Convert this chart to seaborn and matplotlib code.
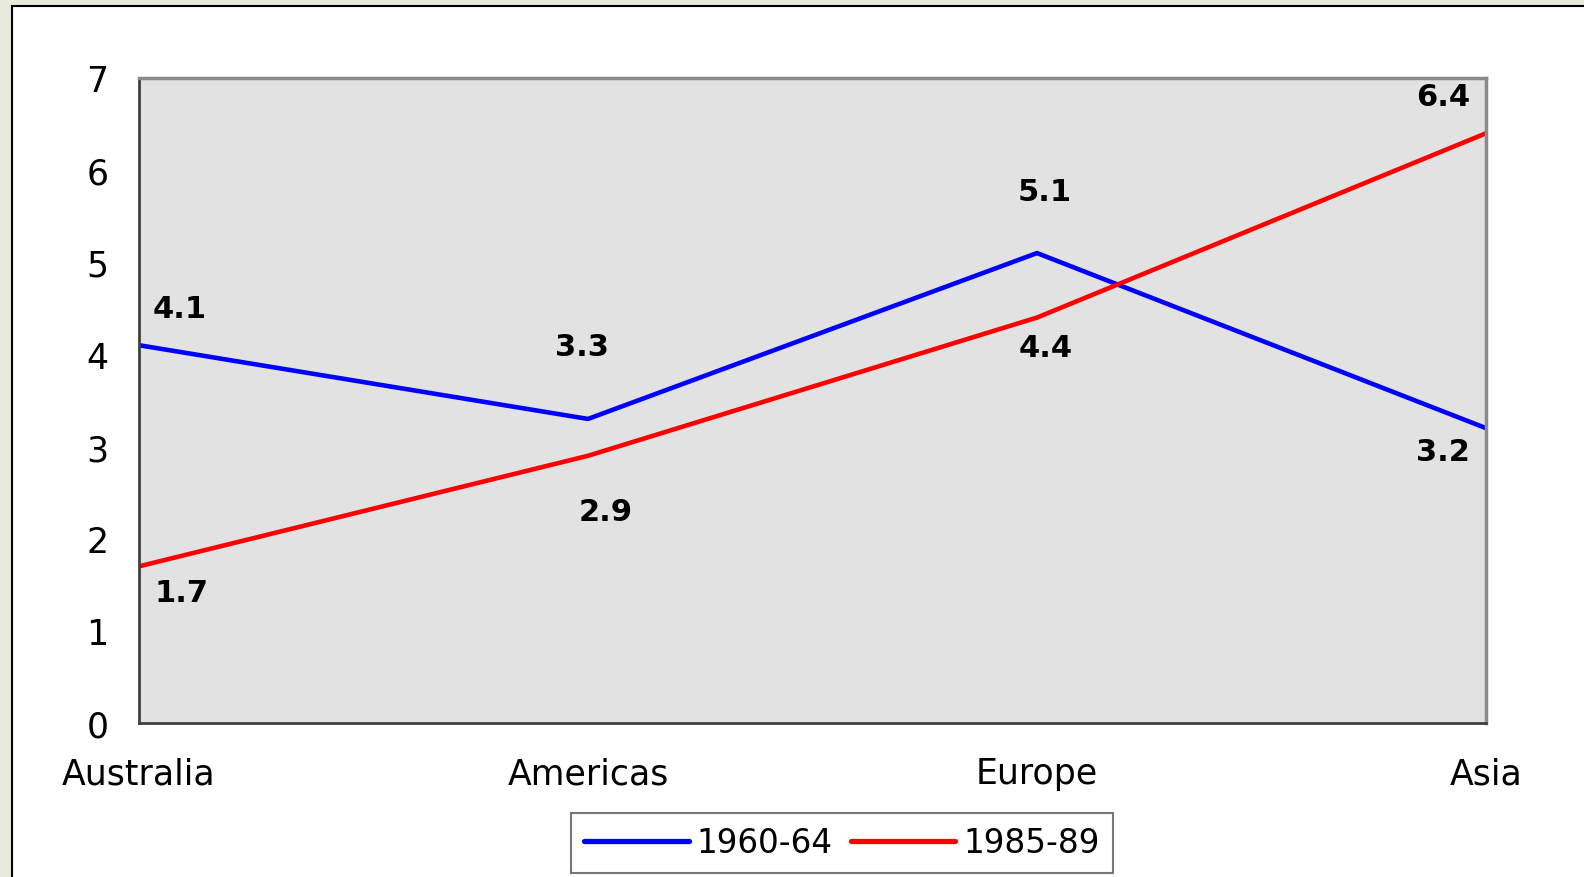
import matplotlib
matplotlib.use("Agg")
import matplotlib.pyplot as plt
import seaborn as sns
import pandas as pd
from matplotlib.patches import Rectangle

regions = ["Australia", "Americas", "Europe", "Asia"]
series_1960 = [4.1, 3.3, 5.1, 3.2]
series_1985 = [1.7, 2.9, 4.4, 6.4]
series_names = ["1960-64", "1985-89"]
y_ticks = [0, 1, 2, 3, 4, 5, 6, 7]

# label offsets (pixels, +y downward) relative to each point
offsets_1960 = [(41, -37), (-6, -72), (8, -62), (-43, 23)]
offsets_1985 = [(42, 26), (18, 56), (9, 30), (-43, -37)]

df = pd.DataFrame({
    "region": regions * 2,
    "value": series_1960 + series_1985,
    "period": [series_names[0]] * 4 + [series_names[1]] * 4,
})

sns.set_style("white")
plt.rcParams["font.family"] = ["DejaVu Sans"]

fig = plt.figure(figsize=(15.84, 8.78), dpi=100)
fig.patch.set_facecolor("#e6e9dc")
# white panel with black frame, behind the axes
panel = Rectangle((12 / 1584, -0.01), 1.0, (878 - 7) / 878 + 0.01,
                  transform=fig.transFigure, facecolor="white",
                  edgecolor="black", linewidth=1.5, zorder=-10)
fig.patches.append(panel)

ax = fig.add_axes([139 / 1584, 1 - 724 / 878, (1486 - 139) / 1584, (724 - 79) / 878])
ax.set_zorder(1)
ax.set_facecolor("#e2e2e2")

sns.lineplot(data=df, x="region", y="value", hue="period",
             palette={"1960-64": "#0000ff", "1985-89": "#ff0000"},
             linewidth=3.3, ax=ax, sort=False)

ax.set_xlim(0, 3)
ax.set_ylim(0, 7)
ax.set_yticks(y_ticks)
ax.set_xlabel("")
ax.set_ylabel("")

for s in ["left", "bottom"]:
    ax.spines[s].set_color("#404040")
    ax.spines[s].set_linewidth(2)
for s in ["top", "right"]:
    ax.spines[s].set_color("#8a8a8a")
    ax.spines[s].set_linewidth(2.5)

ax.tick_params(axis="y", direction="in", length=12, width=1.2, color="#333333",
               labelsize=25, pad=22, labelcolor="black")
ax.tick_params(axis="x", direction="in", length=10, width=1.5, color="#555555",
               labelsize=25, pad=24, labelcolor="black")

for vals, offs in [(series_1960, offsets_1960), (series_1985, offsets_1985)]:
    for i, (v, (dx, dy)) in enumerate(zip(vals, offs)):
        ax.annotate(f"{v:.1f}", xy=(i, v), xytext=(dx, -dy), textcoords="offset pixels",
                    ha="center", va="center", fontsize=22, fontweight="bold",
                    color="black")

leg = ax.legend(loc="center", bbox_to_anchor=(842 / 1584, 1 - 844 / 878),
                bbox_transform=fig.transFigure, ncol=2, fontsize=23.5,
                frameon=True, fancybox=False, handlelength=3.2,
                handletextpad=0.25, columnspacing=0.55, borderpad=0.4)
leg.get_frame().set_edgecolor("#555555")
leg.get_frame().set_linewidth(1.5)
for line in leg.get_lines():
    line.set_linewidth(3.8)
for t in leg.get_texts():
    t.set_color("black")

fig.savefig("out.png", dpi=100, facecolor=fig.get_facecolor())
